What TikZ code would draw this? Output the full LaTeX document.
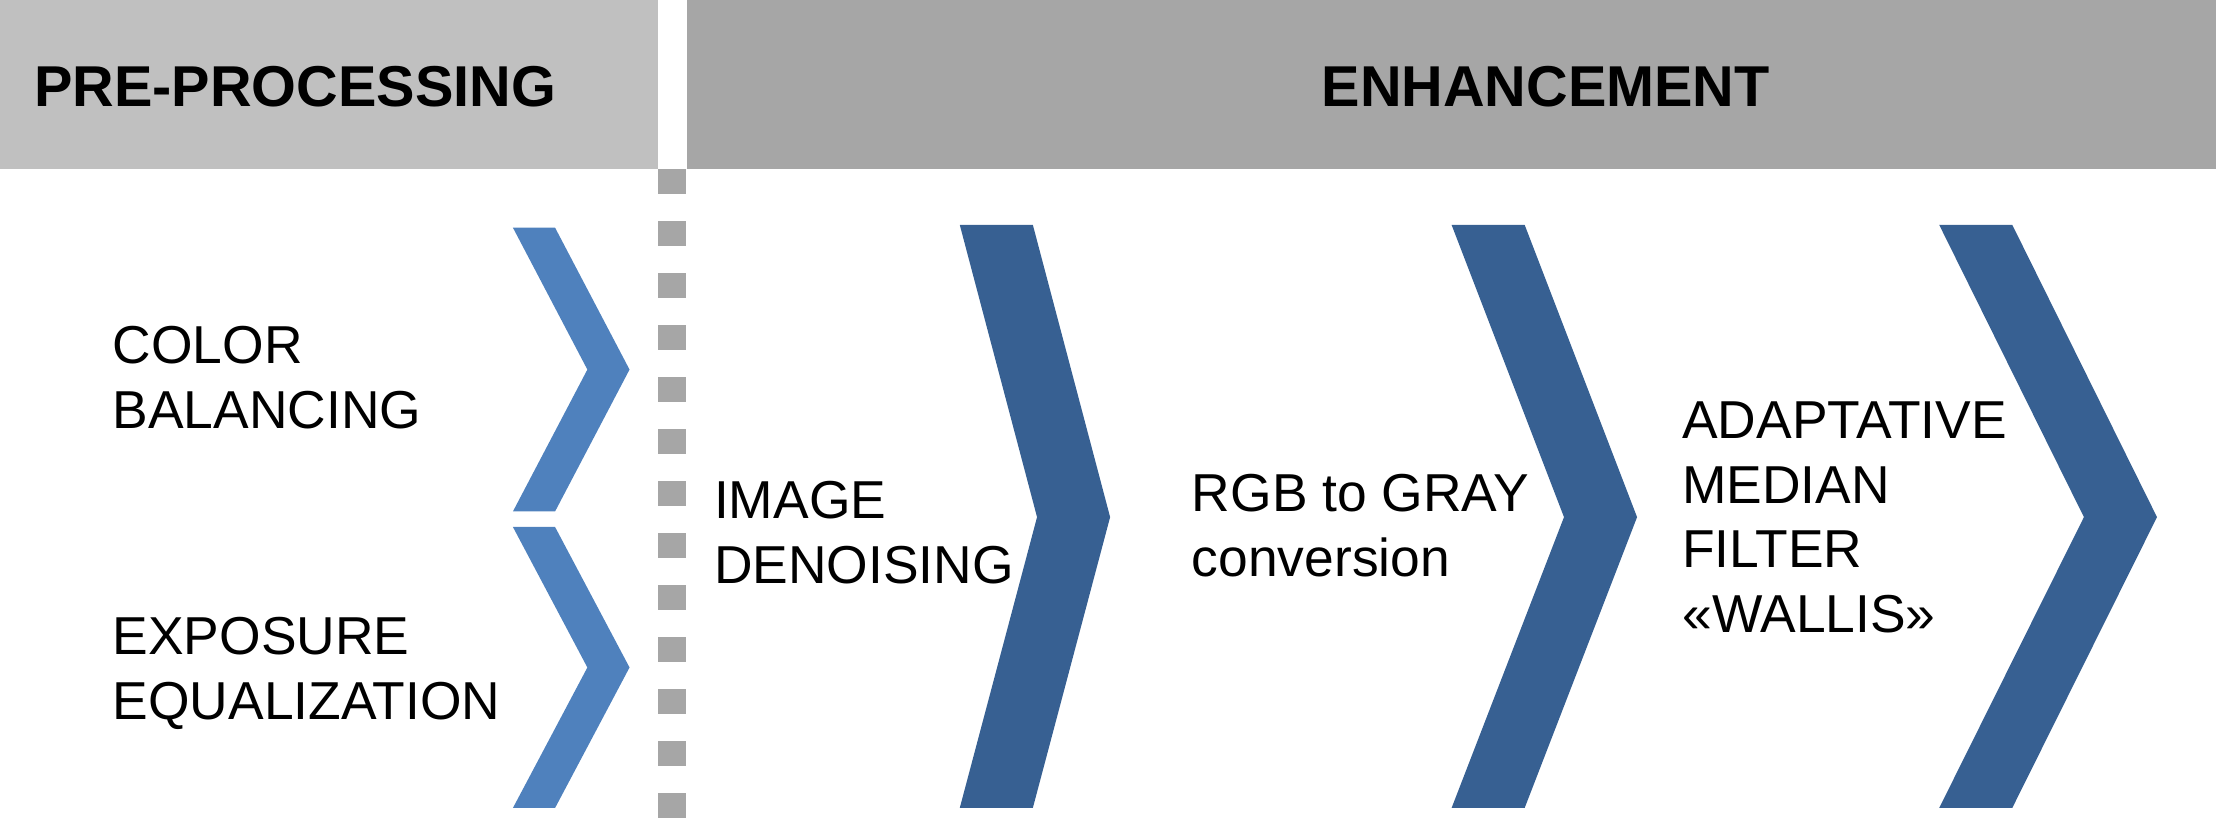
\documentclass[tikz,border=0pt]{standalone}
\usepackage{fontspec}
\setmainfont{Liberation Sans}
\definecolor{lb}{HTML}{4F81BD}
\definecolor{db}{HTML}{376092}
\definecolor{hl}{HTML}{C0C0C0}
\definecolor{hd}{HTML}{A6A6A6}
\begin{document}
\begin{tikzpicture}[x=1pt,y=-1pt,
  lbl/.style={anchor=base west,align=left,inner sep=0pt,font=\fontsize{38}{46}\selectfont},
  hdr/.style={font=\fontsize{41}{44}\selectfont\bfseries}]
\useasboundingbox (0,0) rectangle (1577,596);
\fill[hl] (0,0) rectangle (468,120);
\fill[hd] (489,0) rectangle (1577,120);
\node[hdr] (h1) at (210,62) {PRE-PROCESSING};
\node[hdr] (h2) at (1100,62) {ENHANCEMENT};
\foreach \i in {0,...,12}{\fill[hd] (468,120+\i*37) rectangle (488,138+\i*37);}
% small chevrons
\fill[lb] (365,162) -- (395,162) -- (448,263) -- (395,364) -- (365,364) -- (418,263) -- cycle;
\fill[lb] (365,375) -- (395,375) -- (448,475) -- (395,575) -- (365,575) -- (418,475) -- cycle;
% big chevrons
\foreach \x/\w in {683/107,1033/132,1380/155}{
  \fill[db] (\x,160) -- (\x+52,160) -- (\x+\w,368) -- (\x+52,575) -- (\x,575) -- (\x+\w-52,368) -- cycle;}
\node[lbl] (t1) at (80,305) {COLOR\\BALANCING};
\node[lbl] (t2) at (80,512) {EXPOSURE\\EQUALIZATION};
\node[lbl] (t3) at (508,415) {IMAGE\\DENOISING};
\node[lbl] (t4) at (848,410) {RGB to GRAY\\conversion};
\node[lbl] (t5) at (1197,450) {ADAPTATIVE\\MEDIAN\\FILTER\\«WALLIS»};
\end{tikzpicture}
\end{document}
